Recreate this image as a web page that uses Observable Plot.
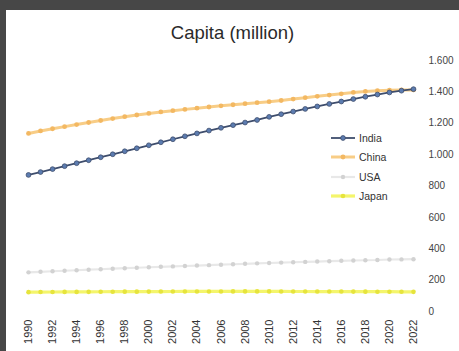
<!DOCTYPE html>
<html><head><meta charset="utf-8">
<script src="https://cdn.jsdelivr.net/npm/d3@7"></script>
<script src="https://cdn.jsdelivr.net/npm/@observablehq/plot@0.6"></script>
<style>
html,body{margin:0;padding:0;}
body{width:459px;height:351px;background:#474747;position:relative;overflow:hidden;font-family:"Liberation Sans",Arial,sans-serif;}
#card{position:absolute;left:6px;top:10px;width:453px;height:341px;background:#fff;}
#title{position:absolute;left:0;top:12px;width:453px;text-align:center;font-size:18.5px;color:#2a2a2a;}
#chart{position:absolute;left:0;top:40px;}
#legend{position:absolute;left:324px;top:118px;font-size:10.5px;color:#333;}
.li{display:flex;align-items:center;height:19.5px;}
.li svg{margin-right:3px;}
</style></head>
<body><div id="card"><div id="title">Capita (million)</div><div id="chart"></div><div id="legend"></div></div>
<script>
const years = d3.range(1990, 2023);
const india = [870.5,888.9,907.6,926.4,945.3,964.3,983.3,1002.3,1021.4,1040.5,1059.6,1078.8,1098.0,1116.8,1135.3,1153.3,1170.9,1187.9,1204.5,1220.8,1240.6,1257.6,1274.5,1291.1,1307.2,1322.9,1338.6,1354.2,1369.0,1383.1,1396.4,1407.6,1417.2];
const china = [1135.2,1150.8,1165.0,1178.4,1191.8,1204.9,1217.6,1230.1,1241.9,1252.7,1262.6,1271.9,1280.4,1288.4,1296.1,1303.7,1311.0,1317.9,1324.7,1331.3,1337.7,1345.0,1354.2,1363.2,1371.9,1379.9,1387.8,1396.2,1402.8,1407.7,1411.1,1412.4,1412.2];
const usa = [249.6,253.0,256.5,259.9,263.1,266.3,269.4,272.7,275.9,279.0,282.2,285.0,287.6,290.1,292.8,295.5,298.4,301.2,304.1,306.8,309.3,311.6,313.9,316.1,318.4,320.7,323.1,325.1,326.8,328.3,331.5,332.0,333.3];
const japan = [123.5,123.9,124.4,124.8,125.0,125.4,125.8,126.1,126.4,126.6,126.8,127.1,127.4,127.7,127.8,127.8,127.9,128.0,128.1,128.0,128.1,127.8,127.6,127.4,127.3,127.1,127.1,126.8,126.5,126.3,126.3,125.7,125.1];
const xTicks = d3.range(1990, 2023, 2);
const yTicks = [0,200,400,600,800,1000,1200,1400,1600];
const yTickLabels = ["0","200","400","600","800","1.000","1.200","1.400","1.600"];
const seriesNames = ["India","China","USA","Japan"];

const styles = {
  India: {line:"#3e4d6c", dot:"#5c7cb0", dotStroke:"#3e4d6c", w:1.8, r:2.4},
  China: {line:"#f8cd86", dot:"#f3b862", dotStroke:"none", w:3, r:2.4},
  USA:   {line:"#e8e8e8", dot:"#d2d2d2", dotStroke:"none", w:2.2, r:2.2},
  Japan: {line:"#f4f56c", dot:"#e6e43c", dotStroke:"none", w:3.2, r:2.3}
};
const values = {India: india, China: china, USA: usa, Japan: japan};
const data = seriesNames.flatMap(s => years.map((y,i) => ({year:y, value:values[s][i], series:s})));

const marks = [];
for (const s of ["Japan","USA","China","India"]) {
  const d = data.filter(r => r.series === s);
  const st = styles[s];
  marks.push(Plot.line(d, {x:"year", y:"value", stroke:st.line, strokeWidth:st.w}));
  marks.push(Plot.dot(d, {x:"year", y:"value", fill:st.dot, stroke:st.dotStroke, strokeWidth:0.8, r:st.r}));
}
marks.push(Plot.axisX({ticks:xTicks, tickFormat:d=>String(d), tickRotate:-90, tickSize:0, tickPadding:8, fontSize:11, fill:"#333", label:null}));
marks.push(Plot.axisY({anchor:"right", ticks:yTicks, tickFormat:d=>yTickLabels[yTicks.indexOf(d)], tickSize:0, tickPadding:15, fontSize:10, fill:"#444", label:null}));

const chart = Plot.plot({
  width:453, height:301,
  marginLeft:22, marginRight:46, marginTop:10, marginBottom:40,
  x:{domain:[1990,2022], label:null},
  y:{domain:[0,1600], label:null},
  style:{fontFamily:"'Liberation Sans', Arial, sans-serif", background:"transparent"},
  marks
});
document.getElementById("chart").appendChild(chart);

const leg = document.getElementById("legend");
for (const s of seriesNames) {
  const st = styles[s];
  const div = document.createElement("div");
  div.className = "li";
  div.innerHTML = `<svg width="26" height="10"><line x1="1" x2="25" y1="5" y2="5" stroke="${st.line}" stroke-width="${st.w}"/><circle cx="13" cy="5" r="${st.r}" fill="${st.dot}" stroke="${st.dotStroke}" stroke-width="0.8"/></svg><span>${s}</span>`;
  leg.appendChild(div);
}
</script></body></html>
